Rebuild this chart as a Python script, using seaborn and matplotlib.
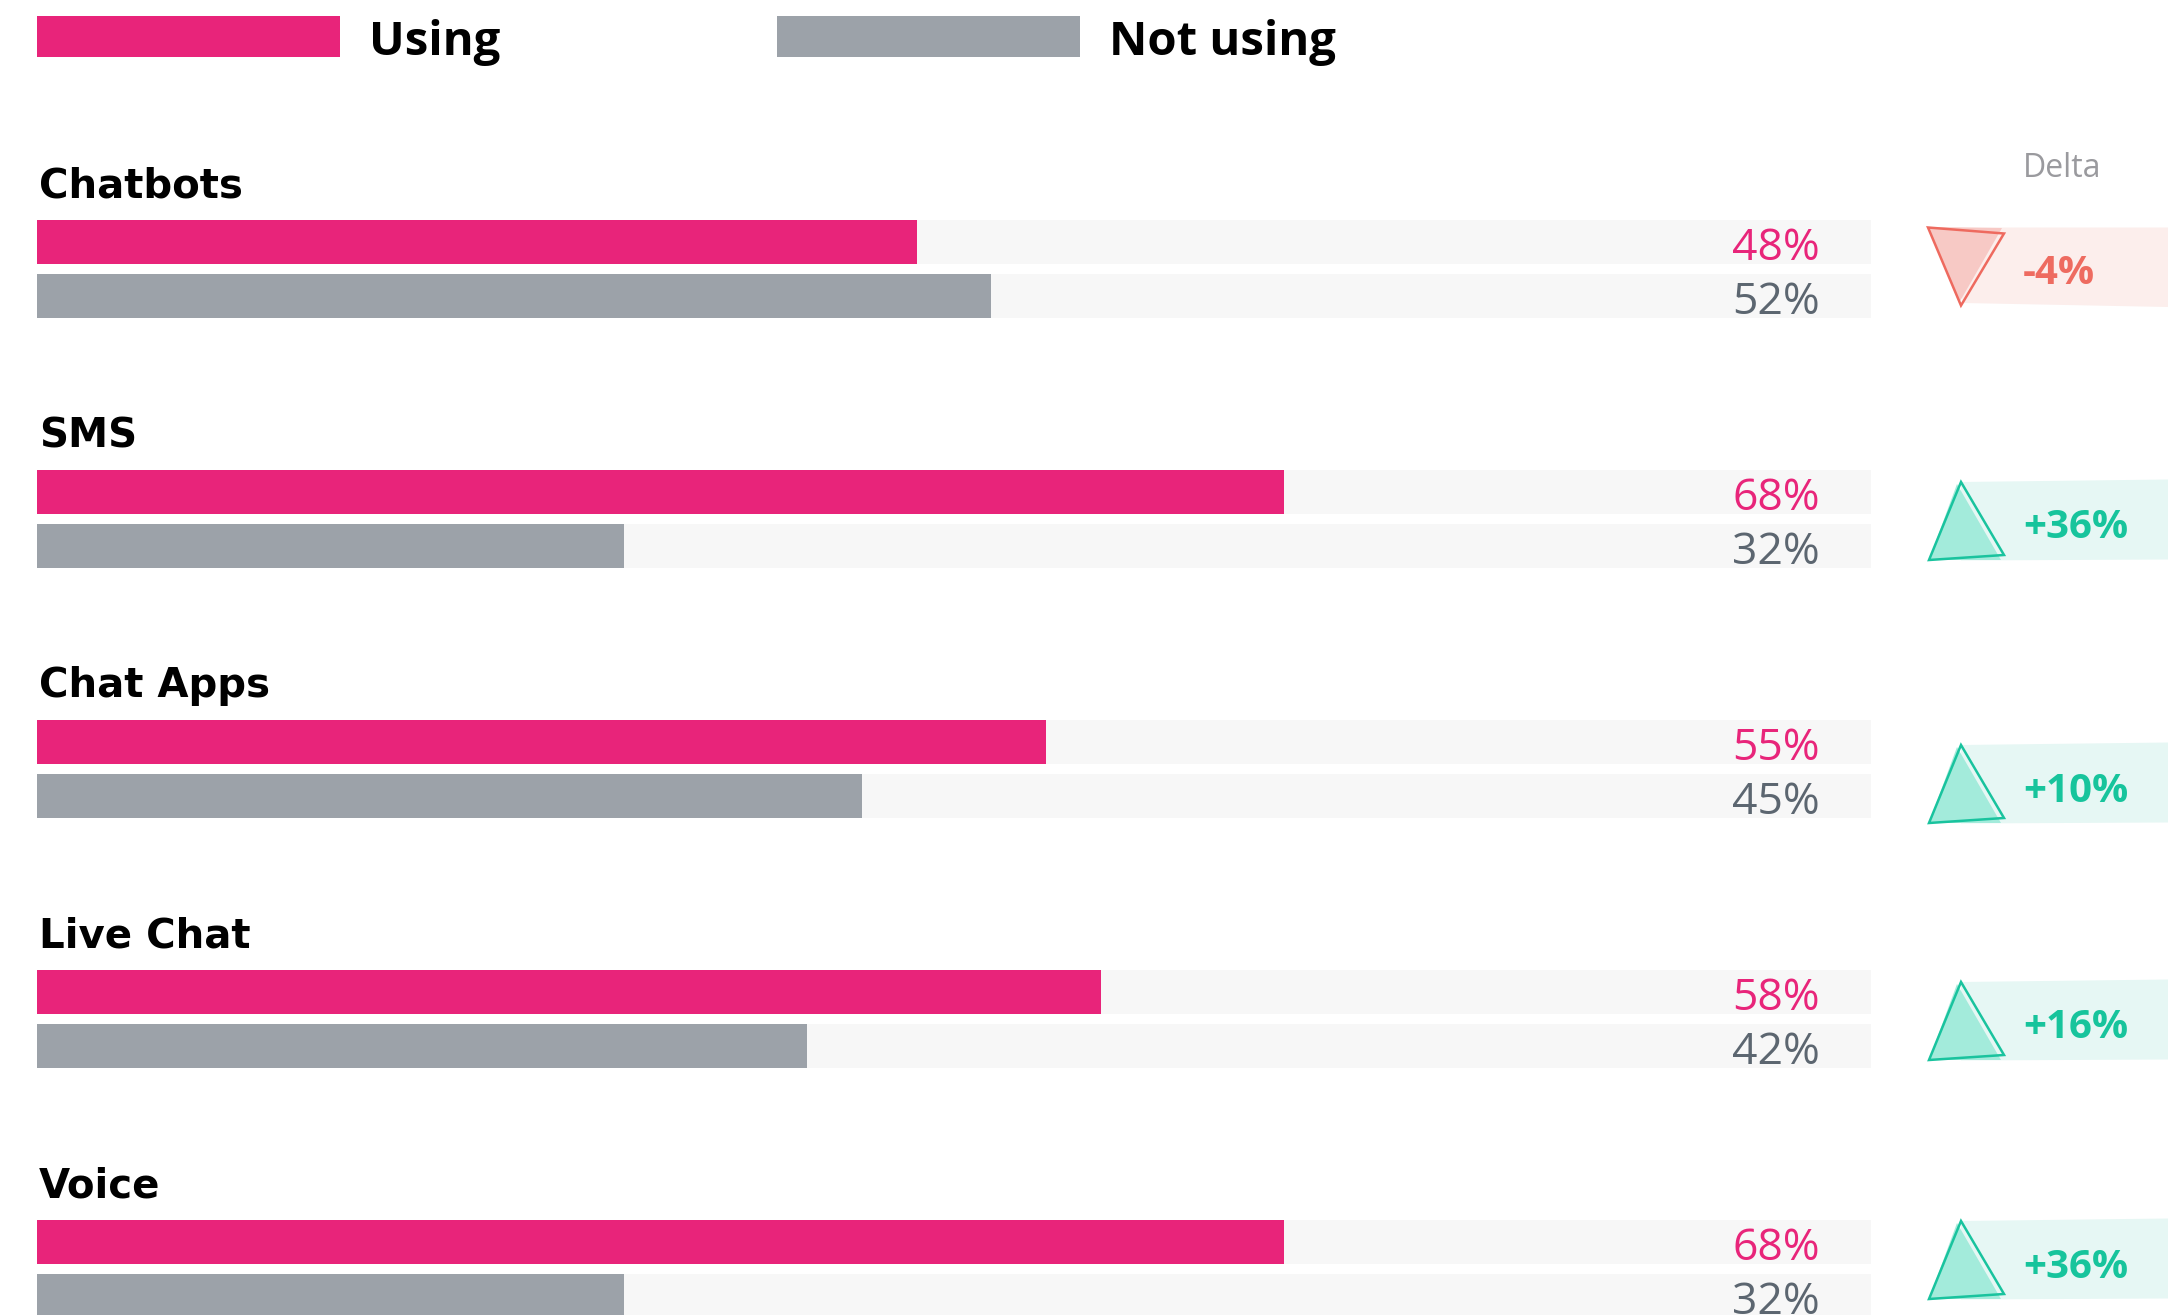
import matplotlib
matplotlib.use("Agg")
import matplotlib.pyplot as plt
from matplotlib.patches import Polygon, Rectangle
import pandas as pd
import seaborn as sns

# ---- data -------------------------------------------------------------
channels = ["Chatbots", "SMS", "Chat Apps", "Live Chat", "Voice"]
using = [48, 68, 55, 58, 68]
not_using = [52, 32, 45, 42, 32]
series = ["Using", "Not using"]

# ---- style ------------------------------------------------------------
PINK = "#E8247A"
GREY_BAR = "#9CA2A9"
TRACK = "#F7F7F7"
PINK_TXT = "#E8257A"
GREY_TXT = "#5C6670"
UP = dict(band="#E6F7F4", fill="#A3EBDB", edge="#19C39E", text="#17C49C")
DOWN = dict(band="#FCEEEC", fill="#F7C9C5", edge="#EE6A5F", text="#EE6B60")

W, H, DPI = 2168, 1315, 100
LEFT, RIGHT = 37, 1871          # pixel extent of the 0-100 % track
ROW0, ROW_STEP = 269, 250       # pixel centre of first group, spacing
badge_nudge = [-2, 2, 15, 2, -9]  # vertical tweak of each delta badge (px)

sns.set_theme(style="white")
plt.rcParams["font.family"] = ["Open Sans", "DejaVu Sans"]

fig = plt.figure(figsize=(W / DPI, H / DPI), dpi=DPI)
fig.patch.set_facecolor("white")


def px2y(py):
    return (py - ROW0) / ROW_STEP


def px2x(px):
    return (px - LEFT) / (RIGHT - LEFT) * 100


ax = fig.add_axes([LEFT / W, 0, (RIGHT - LEFT) / W, 1])

df = pd.DataFrame({
    "channel": channels * 2,
    "status": [series[0]] * len(channels) + [series[1]] * len(channels),
    "share": using + not_using,
})
track = df.assign(share=100)

bar_kw = dict(y="channel", x="share", hue="status", order=channels,
              hue_order=series, width=0.432, gap=0.185, errorbar=None,
              legend=False, saturation=1, linewidth=0, orient="y", ax=ax)
sns.barplot(data=track, palette=[TRACK, TRACK], **bar_kw)
sns.barplot(data=df, palette=[PINK, GREY_BAR], **bar_kw)

ax.set_xlim(0, 100)
ylim = (px2y(H), px2y(0))
ax.set_ylim(*ylim)
ax.axis("off")

# group titles
for i, name in enumerate(channels):
    ax.text(px2x(39), i + px2y(ROW0 - 72), name, fontsize=29,
            fontweight="bold", family=["DejaVu Sans"], color="black",
            ha="left", va="baseline")

# value labels, right aligned inside the track
for cont, colour in zip(ax.containers[2:4], [PINK_TXT, GREY_TXT]):
    for bar, val in zip(cont, cont.datavalues):
        yc = bar.get_y() + bar.get_height() / 2
        ax.text(px2x(1820), yc + 17.5 / ROW_STEP, f"{val:.0f}%",
                fontsize=32, color=colour, ha="right", va="baseline")

# ---- delta column (x in pixels, y shared with the bars) ---------------
axd = fig.add_axes([0, 0, 1, 1])
axd.set_xlim(0, W)
axd.set_ylim(*ylim)
axd.axis("off")

axd.text(2062, px2y(177), "Delta", fontsize=23, color="#9A9A9E",
         ha="center", va="baseline")

for i, (u, n) in enumerate(zip(using, not_using)):
    delta = u - n

    def pt(x, dy, i=i):
        return (x, i + (badge_nudge[i] + dy) / ROW_STEP)

    if delta >= 0:
        c = UP
        band = [pt(1961, -39), pt(W, -41.5), pt(W, 38.5), pt(1961, 39.5)]
        fill = [pt(1957, -37), pt(1929, 39), pt(2001, 39)]
        edge = [pt(1961, -39), pt(1929, 39), pt(2004, 34)]
    else:
        c = DOWN
        band = [pt(1950, -39.5), pt(W, -39.5), pt(W, 40), pt(1963, 36)]
        fill = [pt(1928, -40), pt(2002, -39), pt(1959, 36)]
        edge = [pt(1928, -39.5), pt(2004, -33.5), pt(1961, 38.5)]
    axd.add_patch(Polygon(band, closed=True, facecolor=c["band"],
                          edgecolor="none"))
    axd.add_patch(Polygon(fill, closed=True, facecolor=c["fill"],
                          edgecolor="none"))
    axd.add_patch(Polygon(edge, closed=True, fill=False,
                          edgecolor=c["edge"], linewidth=1.8,
                          joinstyle="miter"))
    axd.text(2023, pt(0, 17.5)[1], f"{delta:+d}%", fontsize=29,
             fontweight="bold", color=c["text"], ha="left", va="baseline")

# ---- legend -----------------------------------------------------------
for x0, colour, label in [(37, PINK, series[0]), (777, GREY_BAR, series[1])]:
    axd.add_patch(Rectangle((x0, px2y(16)), 303, px2y(57) - px2y(16),
                            facecolor=colour, edgecolor="none"))
    axd.text(x0 + 332, px2y(55), label, fontsize=34, fontweight="bold",
             color="black", ha="left", va="baseline")

fig.savefig("out.png", dpi=DPI, facecolor="white")
